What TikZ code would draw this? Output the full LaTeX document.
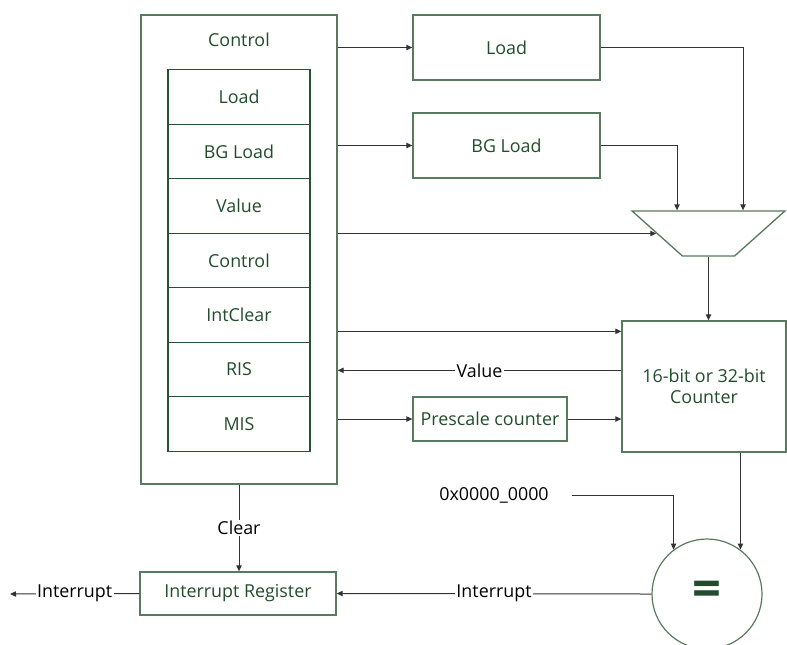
\documentclass[tikz,border=0pt]{standalone}
\usepackage{fontspec}
\setmainfont{Open Sans}
\usepackage{xcolor}
\usepackage{tikz}
\usetikzlibrary{shapes.geometric}
\usetikzlibrary{arrows.meta}
\usetikzlibrary{positioning,calc}
\definecolor{boxgreen}{RGB}{88,122,94}
\definecolor{txtgreen}{RGB}{34,76,44}
\definecolor{regline}{RGB}{40,82,52}
\definecolor{wiregray}{RGB}{50,50,50}
\begin{document}
\begin{tikzpicture}[x=0.75pt, y=-0.75pt, font=\fontsize{13.4}{16}\selectfont,
  blk/.style={draw=boxgreen, line width=1pt, text=txtgreen, align=center, inner sep=0pt},
  reg/.style={draw=regline, line width=0.9pt, text=txtgreen, inner sep=0pt,
    minimum width=106.5pt, minimum height=40.875pt},
  wire/.style={draw=wiregray, line width=0.75pt, -{Triangle[length=4.5pt,width=4pt]}},
  lbl/.style={fill=white, text=black, inner sep=1pt}]
  \useasboundingbox (0,0) rectangle (787,644);

  % ===== Control register file =====
  \node[blk, minimum width=147pt, minimum height=351.75pt] (ctrl) at (239,249.5) {};
  \node[text=txtgreen] (ctrltitle) at (239,40) {Control};
  \foreach \name [count=\i] in {Load, BG Load, Value, Control, IntClear, RIS, MIS}
    \node[reg] (r\i) at (239,42.5+54.5*\i) {\name};

  % ===== Data path blocks =====
  \node[blk, minimum width=140.25pt, minimum height=48.75pt] (load) at (506.5,47.5) {Load};
  \node[blk, minimum width=140.25pt, minimum height=48.75pt] (bgload) at (506.5,145.5) {BG Load};
  \node[trapezium, draw=boxgreen, line width=1pt, trapezium angle=46, shape border rotate=180,
    trapezium stretches=true, minimum width=114.75pt, minimum height=33.75pt] (mux) at (708.5,233.5) {};
  \node[blk, minimum width=123pt, minimum height=98.25pt] (cnt) at (704,386.5) {16-bit or 32-bit\\Counter};
  \node[blk, minimum width=115.5pt, minimum height=33pt] (pre) at (490,419) {Prescale counter};
  \node[text=black] (zero) at (494,495) {0x0000\_0000};
  \node[circle, draw=boxgreen, line width=0.9pt, minimum size=82.5pt, inner sep=0pt,
    text=txtgreen, font=\fontsize{38}{38}\selectfont\bfseries] (eq) at (707,594) {=};
  \node[blk, minimum width=147pt, minimum height=32.25pt] (ir) at (238,593.5) {Interrupt Register};

  % connectors
  \coordinate (muxa) at ($(mux.north)+(-31.5,0)$);
  \coordinate (muxb) at ($(mux.north)+(34.5,0)$);
  \coordinate (cin) at ($(cnt.north west)+(0,11)$);
  \coordinate (vout) at ($(cnt.north west)+(0,50)$);
  \coordinate (irq) at (10,594);

  \draw[wire] (ctrl.east |- load.west) -- (load.west);
  \draw[wire] (ctrl.east |- bgload.west) -- (bgload.west);
  \draw[wire] (load.east) -| (muxb);
  \draw[wire] (bgload.east) -| (muxa);
  \draw[wire] (ctrl.east |- mux.west) -- (mux.west);
  \draw[wire] (mux.south) -- (mux.south |- cnt.north);
  \draw[wire] (ctrl.east |- cin) -- (cin);
  \draw[wire] (vout) -- node[lbl] {Value} (ctrl.east |- vout);
  \draw[wire] (ctrl.east |- pre.west) -- (pre.west);
  \draw[wire] (pre.east) -- (pre.east -| cnt.west);
  \draw[wire] (cnt.south -| eq.53) -- (eq.53);
  \draw[wire] ([xshift=14pt]zero.east) -| (eq.127);
  \draw[wire] (ctrl.south) -- node[lbl] {Clear} (ctrl.south |- ir.north);
  \draw[wire] (eq.west) -- node[lbl] {Interrupt} (ir.east);
  \draw[wire] (ir.west) -- node[lbl] {Interrupt} (irq);
\end{tikzpicture}
\end{document}
